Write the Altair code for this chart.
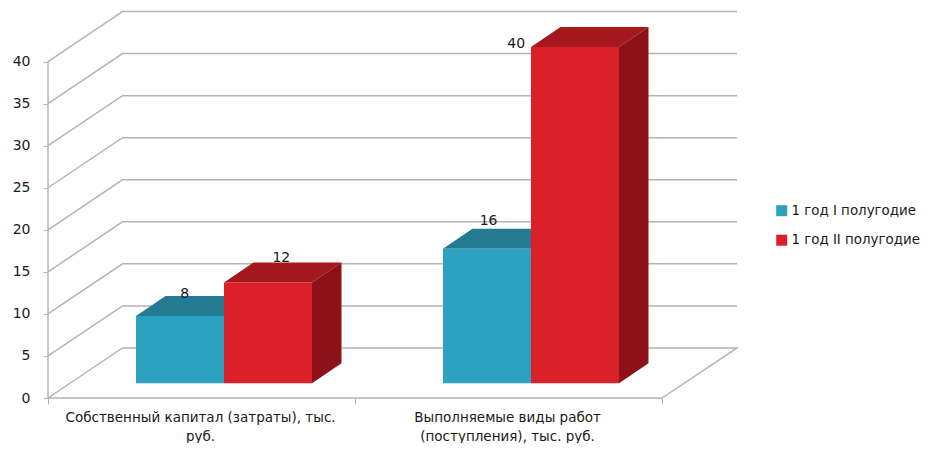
import altair as alt
import pandas as pd

categories = ["Собственный капитал (затраты), тыс.\nруб.", "Выполняемые виды работ\n(поступления), тыс. руб."]
series_names = ["1 год I полугодие", "1 год II полугодие"]
series_one = [8, 16]
series_two = [12, 40]
levels = [0, 5, 10, 15, 20, 25, 30, 35, 40]
front_colors = ["#2CA2C0", "#DA2029"]
top_colors = ["#237A93", "#A5181E"]
side_colors = ["#1B6278", "#8C1218"]
label_x = [0.445, 0.76, 1.435, 1.525]
label_y = [12.35, 16.6, 21.1, 42.15]
label_values = ["8", "12", "16", "40"]

# Plot geometry in data units: one category = 1 on x, one value unit on y
XMAX = 689 / 307
YMAX = 388 / 8.41
WALL_X = 74.5 / 307
WALL_Y = 5.95
BAR_W = 88 / 307
GAP = 88 / 307
DEPTH_X = 29.5 / 307
DEPTH_Y = 20 / 8.41
BASE = 14.7 / 8.41

xs = alt.Scale(domain=[0, XMAX], nice=False, zero=False)
ys = alt.Scale(domain=[0, YMAX], nice=False, zero=False)
X = lambda f="x": alt.X(f"{f}:Q", scale=xs, title=None)
Y = lambda f="y": alt.Y(f"{f}:Q", scale=ys, title=None)

# Grid lines
grid_rows = []
for lv in levels:
    if lv == 0:
        pts = [(0, 0), (WALL_X, WALL_Y), (XMAX, WALL_Y), (2, 0), (0, 0)]
    else:
        pts = [(0, lv), (WALL_X, lv + WALL_Y), (XMAX, lv + WALL_Y)]
    for i, (x, y) in enumerate(pts):
        grid_rows.append({"lv": lv, "i": i, "x": x, "y": y})
grid = alt.Chart(pd.DataFrame(grid_rows)).mark_line(color="#B4B4B4", strokeWidth=1.5).encode(
    x=alt.X("x:Q", scale=xs, title=None, axis=alt.Axis(
        values=[0, 1, 2], labels=False, domain=False, grid=False, ticks=True,
        tickColor="#B4B4B4", tickSize=6, tickWidth=1, title=None)),
    y=alt.Y("y:Q", scale=ys, title=None, axis=alt.Axis(
        values=levels, domain=False, grid=False, ticks=True, tickColor="#B4B4B4",
        tickSize=5, tickWidth=1, labelFont="DejaVu Sans", labelFontSize=14,
        labelColor="#1a1a1a", labelPadding=13, title=None)),
    detail="lv:N", order="i:Q",
)
left_axis = alt.Chart(pd.DataFrame({"x": [0], "y": [0], "y2": [40]})).mark_rule(
    color="#B4B4B4", strokeWidth=1.5).encode(x=X(), y=Y(), y2="y2:Q")

# Bars
bars = []
for c in range(2):
    for s, vals in enumerate([series_one, series_two]):
        x0 = c + GAP + s * BAR_W
        bars.append({"series": series_names[s], "s": s, "c": c, "x0": x0, "x1": x0 + BAR_W,
                     "y0": BASE, "y1": BASE + vals[c]})

layers = [grid, left_axis]
for s in range(2):
    rows_top, rows_side = [], []
    for b in [b for b in bars if b["s"] == s]:
        rows_top += [
            {"c": b["c"], "y": b["y1"], "x": b["x0"], "x2": b["x1"]},
            {"c": b["c"], "y": b["y1"] + DEPTH_Y, "x": b["x0"] + DEPTH_X, "x2": b["x1"] + DEPTH_X},
        ]
        rows_side += [
            {"c": b["c"], "x": b["x1"], "y": b["y0"], "y2": b["y1"]},
            {"c": b["c"], "x": b["x1"] + DEPTH_X, "y": b["y0"] + DEPTH_Y, "y2": b["y1"] + DEPTH_Y},
        ]
    layers.append(alt.Chart(pd.DataFrame(rows_top)).mark_area(
        color=top_colors[s], orient="horizontal").encode(
        y=Y(), x=X(), x2="x2:Q", detail="c:N"))
    layers.append(alt.Chart(pd.DataFrame(rows_side)).mark_area(
        color=side_colors[s], orient="vertical").encode(
        x=X(), y=Y(), y2="y2:Q", detail="c:N"))

front = alt.Chart(pd.DataFrame(bars)).mark_rect().encode(
    x=X("x0"), x2="x1:Q", y=Y("y0"), y2="y1:Q",
    color=alt.Color("series:N", scale=alt.Scale(domain=series_names, range=front_colors),
                    legend=alt.Legend(title=None, orient="none", legendX=727, legendY=194,
                                      symbolType="square", symbolSize=121, symbolStrokeWidth=0,
                                      labelFont="DejaVu Sans", labelFontSize=13.4,
                                      labelColor="#1a1a1a", labelOffset=3, rowPadding=14.5,
                                      padding=0)),
)
layers.append(front)

labels = alt.Chart(pd.DataFrame({"x": label_x, "y": label_y, "t": label_values})).mark_text(
    font="DejaVu Sans", fontSize=14, color="#1a1a1a").encode(x=X(), y=Y(), text="t:N")
layers.append(labels)

cat_labels = alt.Chart(pd.DataFrame({"x": [0.497, 1.497], "y": [0, 0], "t": categories})).mark_text(
    font="DejaVu Sans", fontSize=13.5, color="#1a1a1a", baseline="top", dy=13,
    lineBreak="\n", lineHeight=19).encode(x=X(), y=Y(), text="t:N")
layers.append(cat_labels)

chart = alt.layer(*layers).properties(
    width=689, height=388,
    padding={"left": 40, "top": 2, "right": 186, "bottom": 45},
    autosize=alt.AutoSizeParams(type="none"),
).configure_view(stroke=None)

chart.save("out.html", embed_options={"renderer": "svg", "actions": False})
